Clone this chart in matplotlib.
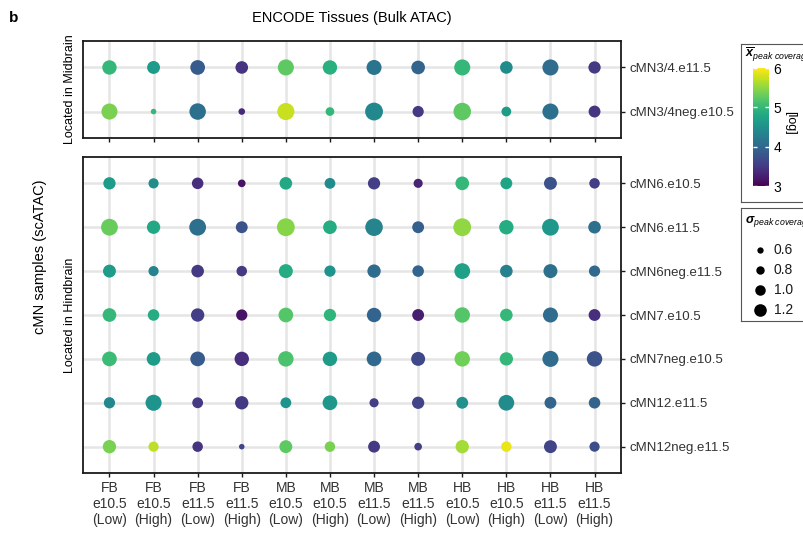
import matplotlib
matplotlib.use("Agg")
import matplotlib.pyplot as plt
import numpy as np

plt.rcParams['font.family'] = ['Liberation Sans', 'DejaVu Sans']
plt.rcParams['mathtext.fontset'] = 'custom'
plt.rcParams['mathtext.rm'] = 'Liberation Sans'
plt.rcParams['mathtext.it'] = 'Liberation Sans:italic'
plt.rcParams['mathtext.bf'] = 'Liberation Sans:italic:bold'

# ENCODE tissues (columns)
tissues = ["FB\ne10.5\n(Low)", "FB\ne10.5\n(High)", "FB\ne11.5\n(Low)", "FB\ne11.5\n(High)",
           "MB\ne10.5\n(Low)", "MB\ne10.5\n(High)", "MB\ne11.5\n(Low)", "MB\ne11.5\n(High)",
           "HB\ne10.5\n(Low)", "HB\ne10.5\n(High)", "HB\ne11.5\n(Low)", "HB\ne11.5\n(High)"]

# cMN samples, midbrain
mid_samples = ["cMN3/4.e11.5", "cMN3/4neg.e10.5"]
mid_mean = [
    [5.0, 4.65, 3.85, 3.45, 5.25, 4.9, 4.15, 3.95, 5.0, 4.45, 4.05, 3.5],
    [5.4, 5.0, 4.1, 3.35, 5.75, 5.0, 4.4, 3.5, 5.25, 4.65, 4.1, 3.45],
]
mid_sd = [
    [1.37, 1.23, 1.4, 1.2, 1.53, 1.37, 1.43, 1.3, 1.53, 1.2, 1.53, 1.17],
    [1.53, 0.53, 1.57, 0.63, 1.63, 0.83, 1.7, 1.07, 1.67, 0.93, 1.53, 1.13],
]

# cMN samples, hindbrain
hind_samples = ["cMN6.e10.5", "cMN6.e11.5", "cMN6neg.e11.5", "cMN7.e10.5",
                "cMN7neg.e10.5", "cMN12.e11.5", "cMN12neg.e11.5"]
hind_mean = [
    [4.65, 4.45, 3.4, 3.15, 4.8, 4.45, 3.55, 3.3, 5.0, 4.75, 3.75, 3.55],
    [5.3, 4.8, 4.1, 3.75, 5.45, 4.85, 4.35, 3.9, 5.5, 4.85, 4.6, 4.1],
    [4.65, 4.35, 3.5, 3.5, 4.85, 4.55, 4.05, 3.95, 4.7, 4.3, 4.1, 4.0],
    [5.0, 4.85, 3.55, 3.15, 5.2, 4.95, 3.95, 3.25, 5.2, 5.0, 4.05, 3.4],
    [5.05, 4.65, 3.85, 3.4, 5.15, 4.65, 4.0, 3.65, 5.35, 5.0, 4.05, 3.75],
    [4.4, 4.55, 3.5, 3.5, 4.55, 4.6, 3.55, 3.6, 4.5, 4.45, 3.95, 3.95],
    [5.4, 5.7, 3.45, 3.6, 5.25, 5.4, 3.5, 3.55, 5.6, 5.9, 3.6, 3.7],
]
hind_sd = [
    [1.17, 0.97, 1.1, 0.73, 1.2, 1.03, 1.17, 0.87, 1.3, 1.13, 1.23, 1.0],
    [1.6, 1.27, 1.6, 1.13, 1.7, 1.3, 1.67, 1.13, 1.7, 1.37, 1.6, 1.2],
    [1.23, 0.97, 1.2, 1.0, 1.33, 1.07, 1.27, 1.1, 1.5, 1.2, 1.33, 1.07],
    [1.3, 1.1, 1.27, 1.07, 1.4, 1.17, 1.37, 1.13, 1.47, 1.2, 1.43, 1.13],
    [1.4, 1.3, 1.4, 1.37, 1.47, 1.37, 1.4, 1.33, 1.47, 1.27, 1.53, 1.47],
    [1.07, 1.53, 1.03, 1.27, 1.03, 1.4, 0.87, 1.17, 1.13, 1.5, 1.13, 1.1],
    [1.27, 0.97, 1.0, 0.53, 1.23, 1.0, 1.13, 0.73, 1.27, 1.0, 1.23, 0.97],
]

sd_breaks = [0.6, 0.8, 1.0, 1.2]

W, H = 804, 533
fig = plt.figure(figsize=(W / 100, H / 100), dpi=100)


def box(x0, y0, x1, y1):
    # pixel coords, origin top-left
    return [x0 / W, 1 - y1 / H, (x1 - x0) / W, (y1 - y0) / H]


def dot_size(sd):
    return (10.5 * np.asarray(sd) * 0.72) ** 2


def panel(rect, names, mean, sd, show_x):
    ax = fig.add_axes(rect)
    n = len(names)
    xs, ys = np.meshgrid(np.arange(len(tissues)), np.arange(n))
    sc = ax.scatter(xs.ravel(), ys.ravel(), s=dot_size(np.ravel(sd)), c=np.ravel(mean),
                    cmap='viridis', vmin=3, vmax=6, linewidths=0, zorder=3)
    ax.set_xlim(-0.6, len(tissues) - 0.4)
    ax.set_ylim(n - 0.4, -0.6)
    ax.set_xticks(range(len(tissues)))
    if show_x:
        ax.set_xticklabels(tissues, fontsize=10, linespacing=1.15)
    else:
        ax.set_xticklabels([])
    ax.set_yticks(range(n))
    ax.set_yticklabels(names)
    ax.yaxis.tick_right()
    ax.grid(True, color='#e5e5e5', lw=1.8)
    ax.set_axisbelow(True)
    for s in ax.spines.values():
        s.set_linewidth(1.3)
        s.set_color('#1a1a1a')
    ax.tick_params(axis='y', labelsize=9.5)
    ax.tick_params(length=3, width=1, pad=3, colors='#1a1a1a', labelcolor='#333333')
    return sc


sc = panel(box(83, 41, 621, 138), mid_samples, mid_mean, mid_sd, False)
panel(box(83, 157, 621, 473), hind_samples, hind_mean, hind_sd, True)

fig.text(14 / W, 1 - 18 / H, "b", fontsize=11, fontweight='bold', ha='center', va='center')
fig.text(352 / W, 1 - 18 / H, "ENCODE Tissues (Bulk ATAC)", fontsize=10.5, ha='center', va='center')
fig.text(40 / W, 1 - 257 / H, "cMN samples (scATAC)", fontsize=10.5, rotation=90, ha='center', va='center')
fig.text(70 / W, 1 - 89.5 / H, "Located in Midbrain", fontsize=9, rotation=90, ha='center', va='center')
fig.text(70 / W, 1 - 315 / H, "Located in Hindbrain", fontsize=9, rotation=90, ha='center', va='center')

# colour legend
lg1 = fig.add_axes(box(741, 44, 840, 202))
lg1.set_xticks([]); lg1.set_yticks([])
for s in lg1.spines.values():
    s.set_linewidth(0.8); s.set_color('#555555')
lg1.text(0.04, 0.93, r"$\overline{\mathbf{x}}_{\mathit{peak\ coverage}}$", transform=lg1.transAxes,
         fontsize=9, ha='left', va='center')
cax = fig.add_axes(box(753, 68, 769, 186))
cb = fig.colorbar(sc, cax=cax, ticks=[3, 4, 5, 6])
cb.outline.set_visible(False)
cax.tick_params(length=3, width=1, color='white', direction='in', labelsize=10, pad=3, left=True)
lg1.text(0.5, 0.5, "[log]", transform=lg1.transAxes, rotation=270, fontsize=9, ha='center', va='center')

# size legend
lg2 = fig.add_axes(box(741, 208, 840, 321))
lg2.set_xlim(741, 840); lg2.set_ylim(321, 208)
lg2.set_xticks([]); lg2.set_yticks([])
for s in lg2.spines.values():
    s.set_linewidth(0.8); s.set_color('#555555')
lg2.text(745, 222, r"$\mathbf{\sigma}_{\mathit{peak\ coverage}}$", fontsize=9, ha='left', va='center')
for i, b in enumerate(sd_breaks):
    y = 250 + 20 * i
    lg2.scatter([760], [y], s=dot_size(b), color='black', linewidths=0)
    lg2.text(774, y, f"{b:.1f}", fontsize=10, ha='left', va='center', color='#1a1a1a')

fig.savefig("out.png", dpi=100)
